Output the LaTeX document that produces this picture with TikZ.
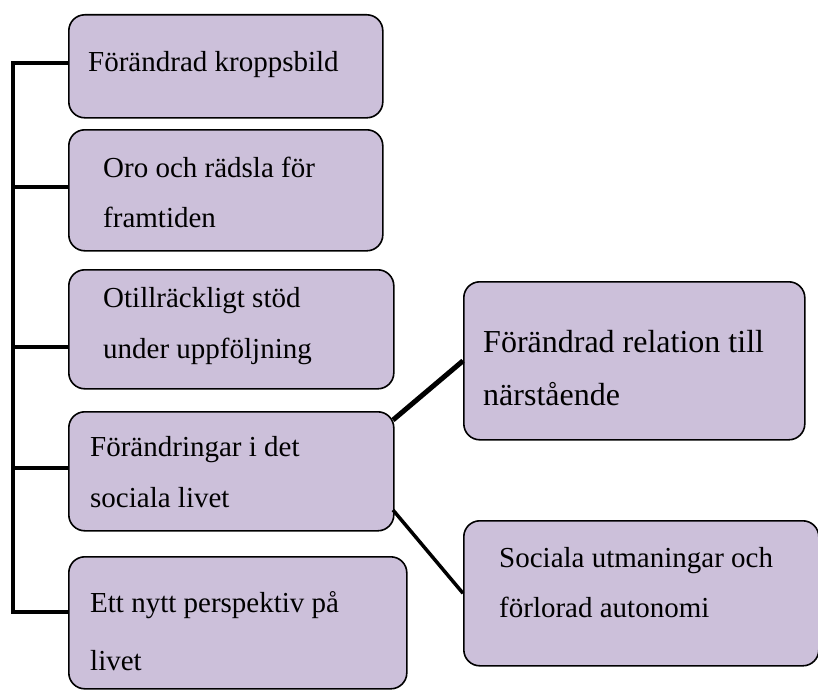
\documentclass[tikz,border=0pt]{standalone}
\usepackage{fontspec}
\setmainfont{Liberation Serif}
\definecolor{boxfill}{RGB}{204,192,218}
\tikzset{
  box/.style={draw, line width=1.6pt, fill=boxfill, rounded corners=16pt,
    anchor=north west, inner sep=0pt},
  boxtext/.style={font=\fontsize{29}{#1}\selectfont, align=left,
    anchor=base west, inner sep=0pt},
  tree/.style={line width=4.5pt, line join=miter},
  link/.style={line width=5pt}
}
\begin{document}
\begin{tikzpicture}[x=1pt, y=-1pt]
  \useasboundingbox (0,0) rectangle (818,690);

  % left column
  \node[box, minimum width=314pt, minimum height=103pt] (b1) at (68,14) {};
  \node[box, minimum width=314pt, minimum height=121pt] (b2) at (68,129) {};
  \node[box, minimum width=325pt, minimum height=119pt] (b3) at (68,269) {};
  \node[box, minimum width=325pt, minimum height=119pt] (b4) at (68,411) {};
  \node[box, minimum width=338pt, minimum height=132pt] (b5) at (68,556) {};

  % right column
  \node[box, minimum width=341pt, minimum height=158pt] (bA) at (463,281) {};
  \node[box, minimum width=355pt, minimum height=145pt] (bB) at (463,520) {};

  % texts (placed at the baseline of their last line)
  \node[boxtext=50] (t1) at (88,72) {Förändrad kroppsbild};
  \node[boxtext=50] (t2) at (103,227) {Oro och rädsla för\\framtiden};
  \node[boxtext=51] (t3) at (103,358) {Otillräckligt stöd\\under uppföljning};
  \node[boxtext=51] (t4) at (90,507) {Förändringar i det\\sociala livet};
  \node[boxtext=58] (t5) at (90,670) {Ett nytt perspektiv på\\livet};
  \node[boxtext=53, font=\fontsize{32}{53}\selectfont] (tA) at (483,405) {Förändrad relation till\\närstående};
  \node[boxtext=50] (tB) at (499,617) {Sociala utmaningar och\\förlorad autonomi};

  % the tree on the left
  \coordinate (k1) at (13,63);
  \coordinate (k2) at (13,187);
  \coordinate (k3) at (13,347);
  \coordinate (k4) at (13,468);
  \coordinate (k5) at (13,612);
  \draw[tree] (k1 -| b1.west) -- (k1) -- (k5) -- (k5 -| b5.west);
  \draw[tree] (k2) -- (k2 -| b2.west);
  \draw[tree] (k3) -- (k3 -| b3.west);
  \draw[tree] (k4) -- (k4 -| b4.west);

  % links to the right
  \coordinate (sA) at (393,420);
  \coordinate (sB) at (393,510);
  \draw[link] (sA) -- (bA.west);
  \draw[link, line width=3.5pt] (sB) -- (bB.west);
\end{tikzpicture}
\end{document}
